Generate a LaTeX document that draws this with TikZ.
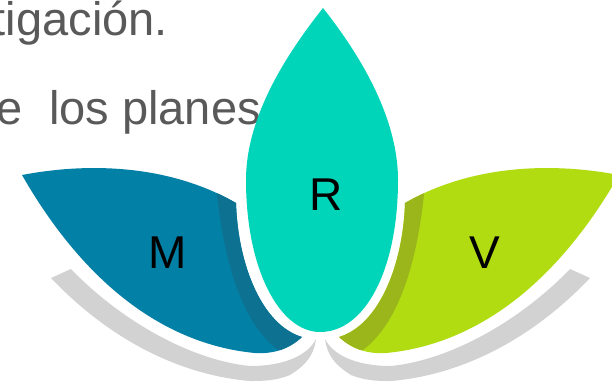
\documentclass[tikz,border=0pt]{standalone}
\usepackage{fontspec}
\setmainfont{Liberation Sans}
\definecolor{mleaf}{HTML}{0380A6}
\definecolor{mband}{HTML}{0D7291}
\definecolor{vleaf}{HTML}{B2DC12}
\definecolor{vband}{HTML}{9AB61A}
\definecolor{rleaf}{HTML}{00D5B9}
\definecolor{leafshadow}{HTML}{D2D2D2}
\definecolor{bodytext}{HTML}{595959}
\tikzset{
  bodyline/.style={text=bodytext,font=\fontsize{47}{47}\selectfont,anchor=base east,inner sep=0pt},
  leaflabel/.style={text=black,font=\fontsize{46}{46}\selectfont,inner sep=0pt,anchor=base}
}
\newcommand{\leafpath}{(22,175) .. controls (90,162) and (170,165) .. (236,203)
  .. controls (238,265) and (262,325) .. (302,337)
  .. controls (288,350) and (272,354) .. (255,353)
  .. controls (170,345) and (88,290) .. (22,175) -- cycle}
\newcommand{\bandpath}{(216,185) .. controls (224,270) and (245,325) .. (278,350) -- (310,350) -- (310,185) -- cycle}
\newcommand{\shadowpath}{(71,269) .. controls (120,320) and (190,360) .. (250,366)
  .. controls (285,366) and (308,355) .. (316,339)
  .. controls (314,355) and (306,365) .. (290,375)
  .. controls (275,381) and (262,381) .. (250,381)
  .. controls (180,375) and (110,340) .. (51,278) -- cycle}
\begin{document}
\begin{tikzpicture}[x=1pt,y=-1pt]
\useasboundingbox (0,0) rectangle (612,381);
\clip (0,0) rectangle (612,381);
\fill[white] (0,0) rectangle (612,381);
\node[bodyline] (line1) at (168,35) {tigación.};
\node[bodyline] (line2) at (261,124) {e\ \ los planes};
% left leaf
\fill[leafshadow] \shadowpath;
\fill[mleaf] \leafpath;
\begin{scope}
  \clip \leafpath;
  \fill[mband] \bandpath;
\end{scope}
% right leaf, mirrored
\begin{scope}[xshift=641pt,xscale=-1]
  \fill[leafshadow] \shadowpath;
  \fill[vleaf] \leafpath;
  \begin{scope}
    \clip \leafpath;
    \fill[vband] \bandpath;
  \end{scope}
\end{scope}
% centre petal
\fill[rleaf] (323,8) .. controls (293,46) and (246,112) .. (246,180)
  .. controls (246,270) and (280,332) .. (320,332)
  .. controls (365,332) and (398,270) .. (398,180)
  .. controls (398,112) and (353,46) .. (323,8) -- cycle;
\node[leaflabel] (m) at (168,268) {M};
\node[leaflabel] (r) at (326,210) {R};
\node[leaflabel] (v) at (485,268) {V};
\end{tikzpicture}
\end{document}
